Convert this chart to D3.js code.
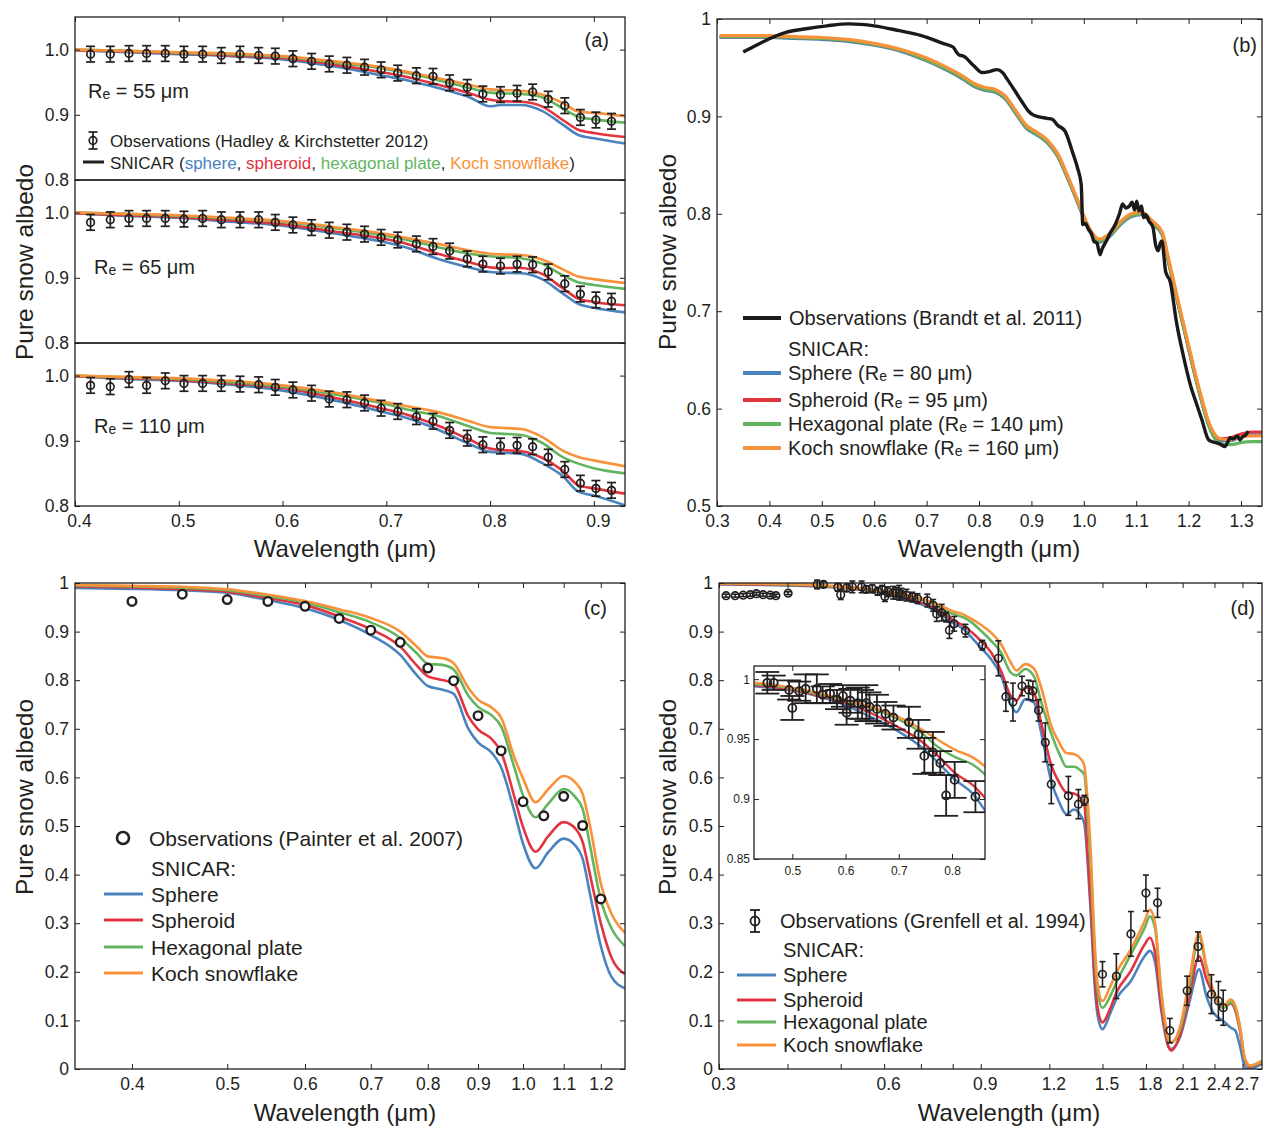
<!DOCTYPE html>
<html>
<head>
<meta charset="utf-8">
<script src="https://cdn.jsdelivr.net/npm/d3@7"></script>
<style>
  body { margin: 0; background: #fff; }
  svg text { font-family: "Liberation Sans", Arial, sans-serif; fill: #231f20; }
  .tick text { font-size: 17.5px; }
  .inset .tick text { font-size: 12px; }
  .tick line { stroke: #231f20; }
</style>
</head>
<body>
<div id="chart"></div>
<script>
// ---------- panel (a): Hadley & Kirchstetter 2012 ----------
const waveA = [0.415,0.434,0.452,0.469,0.487,0.505,0.523,0.541,0.559,0.577,0.593,0.610,0.628,0.645,0.662,0.679,
               0.695,0.711,0.729,0.745,0.761,0.778,0.793,0.810,0.826,0.841,0.856,0.872,0.887,0.902,0.917];
const obsA55 = [0.993,0.993,0.994,0.994,0.994,0.993,0.993,0.991,0.993,0.991,0.990,0.986,0.982,0.978,0.976,0.973,
                0.969,0.964,0.960,0.959,0.949,0.942,0.932,0.931,0.933,0.935,0.924,0.914,0.896,0.892,0.890];
const obsA65 = [0.985,0.989,0.991,0.991,0.991,0.990,0.991,0.989,0.989,0.989,0.985,0.981,0.977,0.973,0.970,0.967,
                0.962,0.958,0.952,0.948,0.941,0.929,0.921,0.918,0.921,0.920,0.909,0.891,0.875,0.866,0.864];
const obsA110 = [0.985,0.983,0.994,0.985,0.992,0.988,0.988,0.988,0.987,0.986,0.982,0.978,0.973,0.964,0.963,0.958,
                 0.950,0.945,0.937,0.930,0.916,0.904,0.894,0.892,0.893,0.891,0.875,0.856,0.835,0.827,0.824];
const errA = 0.012;

const gridA = [0.40,0.45,0.50,0.55,0.60,0.65,0.70,0.72,0.75,0.78,0.80,0.81,0.83,0.85,0.87,0.885,0.90,0.93];
const a55Sphere   = [0.999,0.996,0.993,0.990,0.985,0.974,0.959,0.953,0.941,0.927,0.913,0.915,0.915,0.906,0.885,0.869,0.864,0.856];
const a55Spheroid = [0.999,0.997,0.994,0.991,0.987,0.977,0.964,0.958,0.946,0.933,0.923,0.921,0.920,0.913,0.892,0.877,0.872,0.866];
const a55Hex      = [1.000,0.998,0.995,0.993,0.989,0.980,0.970,0.964,0.953,0.941,0.934,0.933,0.932,0.927,0.910,0.897,0.893,0.888];
const a55Koch     = [1.000,0.998,0.996,0.994,0.990,0.982,0.972,0.966,0.956,0.946,0.939,0.938,0.937,0.931,0.918,0.905,0.903,0.898];
const a65Sphere   = [0.999,0.995,0.992,0.986,0.980,0.968,0.954,0.946,0.929,0.916,0.909,0.908,0.907,0.898,0.876,0.860,0.854,0.847];
const a65Spheroid = [0.999,0.996,0.993,0.988,0.982,0.971,0.959,0.952,0.937,0.924,0.916,0.915,0.915,0.906,0.884,0.868,0.863,0.858];
const a65Hex      = [1.000,0.998,0.995,0.991,0.986,0.976,0.964,0.958,0.947,0.937,0.933,0.932,0.930,0.922,0.904,0.893,0.889,0.883];
const a65Koch     = [1.000,0.998,0.996,0.992,0.987,0.978,0.967,0.961,0.952,0.942,0.937,0.936,0.935,0.928,0.913,0.902,0.898,0.892];
const a110Sphere  = [0.999,0.995,0.992,0.986,0.977,0.962,0.943,0.935,0.917,0.895,0.883,0.882,0.880,0.866,0.846,0.822,0.816,0.801];
const a110Spheroid= [0.999,0.996,0.993,0.988,0.981,0.966,0.948,0.940,0.923,0.902,0.888,0.886,0.884,0.874,0.854,0.832,0.827,0.819];
const a110Hex     = [1.000,0.997,0.995,0.990,0.983,0.971,0.956,0.948,0.938,0.922,0.912,0.911,0.909,0.897,0.875,0.865,0.858,0.850];
const a110Koch    = [1.000,0.998,0.996,0.992,0.985,0.974,0.959,0.953,0.944,0.930,0.921,0.920,0.918,0.906,0.885,0.875,0.870,0.861];

// ---------- panel (b): Brandt et al. 2011 ----------
const waveBObs = [0.350,0.375,0.401,0.430,0.470,0.510,0.552,0.600,0.648,0.690,0.731,0.751,0.757,0.762,0.770,0.790,0.806,
  0.820,0.834,0.845,0.854,0.870,0.882,0.895,0.902,0.930,0.940,0.950,0.964,0.978,0.988,0.995,0.998,1.003,1.009,1.015,
  1.019,1.025,1.031,1.035,1.043,1.050,1.060,1.068,1.074,1.080,1.087,1.092,1.097,1.101,1.105,1.110,1.114,1.118,1.125,
  1.132,1.137,1.142,1.146,1.149,1.156,1.165,1.177,1.190,1.204,1.215,1.225,1.238,1.245,1.252,1.262,1.269,1.275,1.279,
  1.286,1.293,1.298,1.303,1.309,1.314];
const obsB = [0.966,0.973,0.980,0.986,0.990,0.993,0.995,0.993,0.988,0.983,0.975,0.971,0.966,0.963,0.962,0.952,0.945,
  0.946,0.948,0.945,0.938,0.925,0.915,0.905,0.902,0.898,0.897,0.891,0.885,0.864,0.847,0.830,0.789,0.790,0.784,0.779,
  0.772,0.770,0.758,0.764,0.772,0.780,0.789,0.800,0.810,0.806,0.808,0.812,0.804,0.813,0.803,0.808,0.796,0.799,0.792,
  0.786,0.768,0.762,0.770,0.772,0.741,0.730,0.688,0.654,0.623,0.605,0.589,0.568,0.566,0.565,0.563,0.561,0.566,0.570,
  0.569,0.572,0.568,0.571,0.573,0.577];
const gridB = [0.305,0.35,0.40,0.45,0.50,0.55,0.60,0.65,0.70,0.74,0.77,0.79,0.81,0.83,0.85,0.87,0.89,0.91,0.93,0.95,
  0.97,0.99,1.01,1.03,1.05,1.07,1.09,1.11,1.13,1.15,1.16,1.18,1.20,1.22,1.24,1.26,1.28,1.30,1.32,1.34];
const bSphere = [0.981,0.981,0.981,0.980,0.979,0.977,0.973,0.967,0.957,0.947,0.938,0.931,0.927,0.925,0.918,0.903,0.888,
  0.881,0.873,0.859,0.835,0.809,0.783,0.771,0.777,0.789,0.797,0.799,0.790,0.778,0.754,0.707,0.661,0.617,0.581,0.567,
  0.567,0.571,0.573,0.573];
const bSpheroid = [0.982,0.982,0.982,0.981,0.980,0.978,0.974,0.968,0.958,0.948,0.939,0.932,0.928,0.926,0.919,0.904,0.889,
  0.882,0.874,0.860,0.836,0.810,0.784,0.772,0.778,0.790,0.798,0.800,0.791,0.779,0.755,0.708,0.662,0.618,0.582,0.569,
  0.570,0.574,0.576,0.576];
const bHex = [0.982,0.982,0.982,0.981,0.980,0.978,0.974,0.968,0.958,0.948,0.939,0.932,0.928,0.926,0.919,0.904,0.889,
  0.882,0.874,0.860,0.836,0.810,0.784,0.772,0.778,0.790,0.798,0.800,0.791,0.779,0.755,0.708,0.662,0.618,0.580,0.564,
  0.563,0.565,0.566,0.566];
const bKoch = [0.983,0.983,0.983,0.982,0.981,0.979,0.975,0.969,0.960,0.950,0.941,0.934,0.930,0.928,0.921,0.906,0.891,
  0.884,0.876,0.862,0.838,0.812,0.786,0.774,0.780,0.792,0.800,0.802,0.793,0.781,0.758,0.711,0.665,0.621,0.584,0.569,
  0.568,0.571,0.572,0.572];

// ---------- panel (c): Painter et al. 2007 ----------
const waveCObs = [0.40,0.45,0.50,0.55,0.60,0.65,0.70,0.75,0.80,0.85,0.90,0.95,1.00,1.05,1.10,1.15,1.20];
const obsC = [0.962,0.977,0.966,0.962,0.952,0.927,0.903,0.878,0.825,0.799,0.727,0.655,0.550,0.521,0.561,0.501,0.350];
const gridC = [0.35,0.40,0.45,0.50,0.55,0.60,0.65,0.70,0.75,0.78,0.80,0.83,0.85,0.88,0.90,0.93,0.95,0.98,1.00,1.03,
  1.06,1.10,1.13,1.15,1.17,1.20,1.23,1.27];
const cSphere = [0.990,0.988,0.985,0.980,0.965,0.948,0.924,0.893,0.852,0.810,0.788,0.780,0.772,0.700,0.672,0.650,0.621,
  0.530,0.464,0.413,0.445,0.474,0.460,0.433,0.360,0.253,0.190,0.166];
const cSpheroid = [0.993,0.991,0.987,0.982,0.969,0.955,0.931,0.905,0.869,0.830,0.808,0.800,0.793,0.725,0.699,0.678,0.652,
  0.560,0.498,0.447,0.478,0.508,0.495,0.467,0.400,0.300,0.230,0.195];
const cHex = [0.995,0.993,0.990,0.985,0.973,0.960,0.940,0.919,0.887,0.855,0.834,0.831,0.822,0.768,0.745,0.727,0.705,
  0.620,0.563,0.518,0.545,0.576,0.560,0.535,0.460,0.348,0.290,0.253];
const cKoch = [0.996,0.994,0.992,0.987,0.976,0.963,0.946,0.928,0.900,0.869,0.849,0.845,0.835,0.784,0.760,0.743,0.723,
  0.641,0.598,0.549,0.575,0.603,0.590,0.566,0.500,0.382,0.320,0.280];

// ---------- panel (d): Grenfell et al. 1994 ----------
const waveDObs = [0.309,0.321,0.332,0.342,0.351,0.361,0.372,0.381,0.401,
  0.453,0.465,0.494,0.500,0.513,0.525,0.546,0.557,0.571,0.584,0.595,0.602,0.609,0.623,0.631,0.639,0.645,0.659,0.675,
  0.690,0.719,0.737,0.748,0.764,0.778,0.789,0.805,0.844,
  0.906,0.969,1.00,1.03,1.07,1.10,1.12,1.147,1.18,1.21,1.30,1.356,1.39,
  1.50,1.59,1.69,1.80,1.89,1.99,2.14,2.24,2.37,2.44,2.49];
const obsD = [0.974,0.974,0.975,0.976,0.978,0.976,0.975,0.974,0.979,
  0.997,0.997,0.991,0.976,0.990,0.992,0.992,0.987,0.988,0.983,0.986,0.972,0.982,0.980,0.979,0.980,0.977,0.975,0.971,
  0.968,0.964,0.954,0.936,0.939,0.930,0.903,0.916,0.902,
  0.872,0.845,0.766,0.755,0.788,0.780,0.778,0.738,0.672,0.586,0.562,0.545,0.553,
  0.195,0.191,0.278,0.362,0.342,0.079,0.161,0.252,0.154,0.140,0.126];
const errD = [0.003,0.003,0.003,0.003,0.003,0.003,0.003,0.003,0.003,
  0.009,0.006,0.008,0.010,0.008,0.012,0.012,0.007,0.008,0.008,0.009,0.010,0.010,0.013,0.012,0.015,0.012,0.012,0.010,
  0.010,0.013,0.012,0.015,0.017,0.010,0.017,0.015,0.013,
  0.010,0.036,0.030,0.039,0.020,0.020,0.020,0.022,0.040,0.040,0.040,0.030,0.010,
  0.026,0.046,0.046,0.037,0.030,0.025,0.030,0.030,0.040,0.040,0.036];
const gridD = [0.30,0.40,0.43,0.50,0.554,0.598,0.648,0.697,0.743,0.775,0.806,0.838,0.866,0.90,0.94,0.98,1.02,1.045,
  1.085,1.125,1.16,1.21,1.25,1.29,1.33,1.37,1.39,1.41,1.43,1.45,1.47,1.50,1.55,1.59,1.69,1.79,1.83,1.87,1.92,1.98,
  2.00,2.08,2.16,2.25,2.32,2.39,2.49,2.57,2.62,2.67,2.73,2.79,2.85,2.93];
const dSphere = [0.997,0.995,0.994,0.9905,0.985,0.9786,0.9683,0.9571,0.9432,0.9299,0.916,0.905,0.888,0.867,0.843,0.809,
  0.751,0.734,0.761,0.754,0.692,0.592,0.550,0.524,0.534,0.521,0.505,0.424,0.310,0.180,0.110,0.082,0.115,0.144,0.181,
  0.232,0.243,0.220,0.120,0.045,0.041,0.068,0.137,0.205,0.150,0.116,0.099,0.085,0.079,0.048,0.003,0.000,0.004,0.010];
const dSpheroid = [0.998,0.996,0.995,0.991,0.986,0.9805,0.9716,0.9605,0.948,0.9354,0.9215,0.912,0.899,0.881,0.857,0.819,
  0.768,0.758,0.785,0.775,0.712,0.625,0.590,0.569,0.567,0.557,0.545,0.438,0.330,0.200,0.125,0.096,0.125,0.157,0.202,
  0.256,0.270,0.240,0.130,0.045,0.038,0.072,0.150,0.232,0.185,0.154,0.126,0.135,0.120,0.080,0.015,0.004,0.008,0.013];
const dHex = [0.999,0.997,0.996,0.992,0.987,0.982,0.976,0.967,0.955,0.943,0.935,0.929,0.919,0.902,0.881,0.857,
  0.816,0.810,0.823,0.808,0.755,0.690,0.650,0.622,0.622,0.614,0.606,0.520,0.400,0.250,0.160,0.126,0.150,0.178,0.236,
  0.290,0.314,0.290,0.155,0.058,0.054,0.082,0.171,0.273,0.208,0.158,0.126,0.137,0.125,0.086,0.018,0.006,0.009,0.015];
const dKoch = [0.999,0.998,0.997,0.993,0.988,0.983,0.977,0.969,0.958,0.949,0.941,0.935,0.926,0.914,0.898,0.874,
  0.837,0.820,0.833,0.824,0.785,0.706,0.672,0.650,0.648,0.638,0.624,0.548,0.431,0.270,0.175,0.140,0.170,0.198,0.246,
  0.304,0.328,0.300,0.160,0.060,0.055,0.089,0.185,0.280,0.212,0.161,0.130,0.143,0.130,0.089,0.020,0.007,0.010,0.017];

// ---------- drawing ----------
const ink = "#231f20";
const colors = { sphere: "#4a83be", spheroid: "#e2343f", hex: "#62b45f", koch: "#f7923a" };
const zip = (xs, ys) => xs.map((v, i) => [v, ys[i]]);

const svg = d3.select("#chart").append("svg").attr("width", 1263).attr("height", 1126);
const defs = svg.append("defs");
let clipN = 0;
function clipTo(x0, y0, w, h) {
  const id = "clip" + (clipN++);
  defs.append("clipPath").attr("id", id).append("rect").attr("x", x0).attr("y", y0).attr("width", w).attr("height", h);
  return "url(#" + id + ")";
}

function drawAxes(g, x, y, o) {
  const [x0, x1] = x.range(), [yb, yt] = y.range();
  if (o.bottom) {
    const ax = g.append("g").attr("transform", `translate(0,${yb})`)
      .call(d3.axisBottom(x).tickValues(o.xt).tickSize(-5).tickPadding(o.pad || 9).tickFormat(o.xf));
    if (o.dx) ax.selectAll(".tick text").attr("dx", o.dx);
  }
  if (o.top) g.append("g").attr("transform", `translate(0,${yt})`)
    .call(d3.axisTop(x).tickValues(o.xt).tickSize(-5).tickFormat(""));
  g.append("g").attr("transform", `translate(${x0},0)`)
    .call(d3.axisLeft(y).tickValues(o.yt).tickSize(-5).tickPadding(o.pad ? 4 : 6).tickFormat(o.yf));
  g.append("g").attr("transform", `translate(${x1},0)`)
    .call(d3.axisRight(y).tickValues(o.yt).tickSize(-5).tickFormat(""));
  g.selectAll(".domain").remove();
  g.selectAll(".tick text").attr("font-family", null);
  g.append("rect").attr("x", x0).attr("y", yt).attr("width", x1 - x0).attr("height", yb - yt)
    .attr("fill", "none").attr("stroke", ink).attr("stroke-width", 1.3);
}

function drawCurves(g, x, y, grid, series, width, clip) {
  const line = d3.line().x(d => x(d[0])).y(d => y(d[1])).curve(d3.curveMonotoneX);
  const cg = g.append("g").attr("clip-path", clip);
  series.forEach(s => {
    cg.append("path").datum(zip(grid, s.v)).attr("d", line)
      .attr("fill", "none").attr("stroke", s.c).attr("stroke-width", width).attr("stroke-linejoin", "round");
  });
}

function errPoints(g, x, y, xs, ys, errs, o) {
  const pts = g.selectAll(null).data(xs.map((v, i) => ({ w: v, a: ys[i], e: errs[i] })))
    .enter().append("g").filter(d => o.keep ? o.keep(d) : true);
  pts.append("line").attr("x1", d => x(d.w)).attr("x2", d => x(d.w))
    .attr("y1", d => y(d.a - d.e)).attr("y2", d => y(d.a + d.e))
    .attr("stroke", ink).attr("stroke-width", o.sw);
  [-1, 1].forEach(k => {
    pts.append("line").attr("x1", d => x(d.w) - o.cap).attr("x2", d => x(d.w) + o.cap)
      .attr("y1", d => y(d.a + k * d.e)).attr("y2", d => y(d.a + k * d.e))
      .attr("stroke", ink).attr("stroke-width", o.sw);
  });
  pts.append("circle").attr("cx", d => x(d.w)).attr("cy", d => y(d.a)).attr("r", o.r)
    .attr("fill", "none").attr("stroke", ink).attr("stroke-width", o.sw);
}

function reText(g, x, y, size, before, after) {
  const t = g.append("text").attr("x", x).attr("y", y).attr("dominant-baseline", "central").style("font-size", size + "px");
  t.append("tspan").text(before + "R");
  t.append("tspan").text("e").style("font-size", Math.round(size * 0.72) + "px").attr("dy", size * 0.14);
  t.append("tspan").text(after).attr("dy", -size * 0.14);
  return t;
}

function label(g, x, y, size, txt, anchor) {
  return g.append("text").attr("x", x).attr("y", y).attr("dominant-baseline", "central")
    .attr("text-anchor", anchor || "start").style("font-size", size + "px").text(txt);
}

function yTitle(g, cx, cy) {
  g.append("text").attr("transform", `translate(${cx},${cy}) rotate(-90)`).attr("text-anchor", "middle")
    .attr("dominant-baseline", "central").style("font-size", "24.5px").text("Pure snow albedo");
}

const f1 = d => d.toFixed(1);
const fEnd = d => (d === 1 || d === 0) ? String(d) : d.toFixed(1);

// ===== (a) =====
const gA = svg.append("g");
const xA = d3.scaleLinear().domain([0.4, 0.93]).range([75, 625]);
const subsA = [
  { re: "55", obs: obsA55, cur: [a55Sphere, a55Spheroid, a55Hex, a55Koch], lx: 88, ly: 91 },
  { re: "65", obs: obsA65, cur: [a65Sphere, a65Spheroid, a65Hex, a65Koch], lx: 94, ly: 267 },
  { re: "110", obs: obsA110, cur: [a110Sphere, a110Spheroid, a110Hex, a110Koch], lx: 94, ly: 426 }
];
subsA.forEach((s, i) => {
  const top = 17 + i * 163, bot = top + 163;
  const yA = d3.scaleLinear().domain([0.8, 1.05]).range([bot, top]);
  const g = gA.append("g");
  drawCurves(g, xA, yA, gridA, [
    { v: s.cur[0], c: colors.sphere }, { v: s.cur[1], c: colors.spheroid },
    { v: s.cur[2], c: colors.hex }, { v: s.cur[3], c: colors.koch }], 2.6, clipTo(75, top, 550, 163));
  errPoints(g, xA, yA, waveA, s.obs, waveA.map(() => errA), { r: 3.8, cap: 4.5, sw: 1.7 });
  drawAxes(g, xA, yA, { xt: [0.4, 0.5, 0.6, 0.7, 0.8, 0.9], xf: f1, yt: [0.8, 0.9, 1.0], yf: f1,
    top: i === 0, bottom: i === 2, dx: 4 });
  reText(g, s.lx, s.ly, 20, "", " = " + s.re + " \u03bcm");
});
// legend (a)
{
  const g = gA.append("g");
  g.append("line").attr("x1", 93).attr("x2", 93).attr("y1", 132).attr("y2", 149).attr("stroke", ink).attr("stroke-width", 1.7);
  [132, 149].forEach(v => g.append("line").attr("x1", 88.5).attr("x2", 97.5).attr("y1", v).attr("y2", v).attr("stroke", ink).attr("stroke-width", 1.7));
  g.append("circle").attr("cx", 93).attr("cy", 140.5).attr("r", 3.8).attr("fill", "none").attr("stroke", ink).attr("stroke-width", 1.7);
  label(g, 110, 141, 17, "Observations (Hadley & Kirchstetter 2012)");
  g.append("line").attr("x1", 83).attr("x2", 104).attr("y1", 162).attr("y2", 162).attr("stroke", ink).attr("stroke-width", 3);
  const t = label(g, 110, 163, 17, "");
  [["SNICAR (", ink], ["sphere", colors.sphere], [", ", ink], ["spheroid", colors.spheroid], [", ", ink],
   ["hexagonal plate", colors.hex], [", ", ink], ["Koch snowflake", colors.koch], [")", ink]]
    .forEach(p => t.append("tspan").text(p[0]).style("fill", p[1]));
  label(g, 609, 40, 20, "(a)", "end");
}
label(gA, 345, 548, 24, "Wavelength (\u03bcm)", "middle");
yTitle(gA, 24, 262);

// ===== (b) =====
const gB = svg.append("g");
const xB = d3.scaleLinear().domain([0.3, 1.34]).range([717, 1262]);
const yB = d3.scaleLinear().domain([0.5, 1.0]).range([506, 19]);
drawCurves(gB, xB, yB, gridB, [
  { v: bSphere, c: colors.sphere }, { v: bSpheroid, c: colors.spheroid },
  { v: bHex, c: colors.hex }, { v: bKoch, c: colors.koch }], 3.2, clipTo(717, 19, 545, 487));
gB.append("path").datum(zip(waveBObs, obsB))
  .attr("d", d3.line().x(d => xB(d[0])).y(d => yB(d[1])).curve(d3.curveMonotoneX))
  .attr("fill", "none").attr("stroke", "#1a1a1a").attr("stroke-width", 3.4).attr("stroke-linejoin", "round");
drawAxes(gB, xB, yB, { xt: d3.range(3, 14).map(v => v / 10), xf: f1, yt: [0.5, 0.6, 0.7, 0.8, 0.9, 1.0], yf: fEnd,
  top: true, bottom: true });
{
  const g = gB.append("g");
  g.append("line").attr("x1", 743).attr("x2", 781).attr("y1", 318).attr("y2", 318).attr("stroke", "#1a1a1a").attr("stroke-width", 4);
  label(g, 789, 318, 20, "Observations (Brandt et al. 2011)");
  label(g, 788, 349, 20, "SNICAR:");
  const items = [["Sphere (", " = 80 \u03bcm)", colors.sphere, 373], ["Spheroid (", " = 95 \u03bcm)", colors.spheroid, 400],
    ["Hexagonal plate (", " = 140 \u03bcm)", colors.hex, 424], ["Koch snowflake (", " = 160 \u03bcm)", colors.koch, 448]];
  items.forEach(it => {
    g.append("line").attr("x1", 743).attr("x2", 781).attr("y1", it[3]).attr("y2", it[3]).attr("stroke", it[2]).attr("stroke-width", 4);
    reText(g, 788, it[3], 20, it[0], it[1]);
  });
  label(g, 1257, 45, 20, "(b)", "end");
}
label(gB, 989, 548, 24, "Wavelength (\u03bcm)", "middle");
yTitle(gB, 667, 252);

// ===== (c) =====
const gC = svg.append("g");
const xC = d3.scaleLog().domain([0.35, 1.27]).range([75, 625]);
const yC = d3.scaleLinear().domain([0, 1]).range([1069, 583]);
drawCurves(gC, xC, yC, gridC, [
  { v: cSphere, c: colors.sphere }, { v: cSpheroid, c: colors.spheroid },
  { v: cHex, c: colors.hex }, { v: cKoch, c: colors.koch }], 2.6, clipTo(75, 583, 550, 486));
gC.selectAll(null).data(zip(waveCObs, obsC)).enter().append("circle")
  .attr("cx", d => xC(d[0])).attr("cy", d => yC(d[1])).attr("r", 4.3)
  .attr("fill", "#fff").attr("stroke", ink).attr("stroke-width", 2.4);
drawAxes(gC, xC, yC, { xt: d3.range(4, 13).map(v => v / 10), xf: f1, yt: d3.range(0, 11).map(v => v / 10), yf: fEnd,
  top: true, bottom: true });
{
  const g = gC.append("g");
  g.append("circle").attr("cx", 123).attr("cy", 838).attr("r", 6).attr("fill", "#fff").attr("stroke", ink).attr("stroke-width", 2.6);
  label(g, 149, 838, 21, "Observations (Painter et al. 2007)");
  label(g, 151, 868, 21, "SNICAR:");
  [["Sphere", colors.sphere, 894], ["Spheroid", colors.spheroid, 920], ["Hexagonal plate", colors.hex, 947],
   ["Koch snowflake", colors.koch, 973]].forEach(it => {
    g.append("line").attr("x1", 104).attr("x2", 143).attr("y1", it[2]).attr("y2", it[2]).attr("stroke", it[1]).attr("stroke-width", 3);
    label(g, 151, it[2], 21, it[0]);
  });
  label(g, 607, 608, 20, "(c)", "end");
}
label(gC, 345, 1112, 24, "Wavelength (\u03bcm)", "middle");
yTitle(gC, 24, 797);

// ===== (d) =====
const gD = svg.append("g");
const xD = d3.scaleLog().domain([0.3, 2.93]).range([719, 1262]);
const yD = d3.scaleLinear().domain([0, 1]).range([1069, 583]);
drawCurves(gD, xD, yD, gridD, [
  { v: dSphere, c: colors.sphere }, { v: dSpheroid, c: colors.spheroid },
  { v: dHex, c: colors.hex }, { v: dKoch, c: colors.koch }], 2.6, clipTo(719, 583, 543, 486));
errPoints(gD, xD, yD, waveDObs, obsD, errD, { r: 3.8, cap: 3, sw: 1.6 });
drawAxes(gD, xD, yD, { xt: [0.3, 0.4, 0.5, 0.6, 0.7, 0.8, 0.9, 1.2, 1.5, 1.8, 2.1, 2.4, 2.7],
  xf: d => Math.round(d * 10) % 3 === 0 ? d.toFixed(1) : "", yt: d3.range(0, 11).map(v => v / 10), yf: fEnd,
  top: true, bottom: true, dx: 4 });
// inset
{
  const g = gD.append("g").attr("class", "inset");
  const xI = d3.scaleLinear().domain([0.428, 0.862]).range([754, 985]);
  const yI = d3.scaleLinear().domain([0.85, 1.011]).range([859, 666]);
  g.append("rect").attr("x", 754).attr("y", 666).attr("width", 231).attr("height", 193).attr("fill", "#fff");
  drawCurves(g, xI, yI, gridD, [
    { v: dSphere, c: colors.sphere }, { v: dSpheroid, c: colors.spheroid },
    { v: dHex, c: colors.hex }, { v: dKoch, c: colors.koch }], 2.4, clipTo(754, 666, 231, 193));
  errPoints(g.append("g").attr("clip-path", clipTo(754, 666, 231, 193)), xI, yI, waveDObs, obsD, errD,
    { r: 4, cap: 12, sw: 1.8, keep: d => d.w > 0.43 && d.w < 0.86 });
  drawAxes(g, xI, yI, { xt: [0.5, 0.6, 0.7, 0.8], xf: f1, yt: [0.85, 0.9, 0.95, 1.0],
    yf: d => d === 1 ? "1" : String(d), top: true, bottom: true, pad: 7 });
}
{
  const g = gD.append("g");
  g.append("line").attr("x1", 755).attr("x2", 755).attr("y1", 910).attr("y2", 932).attr("stroke", ink).attr("stroke-width", 1.8);
  [910, 932].forEach(v => g.append("line").attr("x1", 750).attr("x2", 760).attr("y1", v).attr("y2", v).attr("stroke", ink).attr("stroke-width", 1.8));
  g.append("circle").attr("cx", 755).attr("cy", 921).attr("r", 4.5).attr("fill", "none").attr("stroke", ink).attr("stroke-width", 1.8);
  label(g, 780, 921, 20, "Observations (Grenfell et al. 1994)");
  label(g, 783, 950, 20, "SNICAR:");
  [["Sphere", colors.sphere, 975], ["Spheroid", colors.spheroid, 1000], ["Hexagonal plate", colors.hex, 1022],
   ["Koch snowflake", colors.koch, 1045]].forEach(it => {
    g.append("line").attr("x1", 737).attr("x2", 776).attr("y1", it[2]).attr("y2", it[2]).attr("stroke", it[1]).attr("stroke-width", 3);
    label(g, 783, it[2], 20, it[0]);
  });
  label(g, 1255, 608, 20, "(d)", "end");
}
label(gD, 1009, 1112, 24, "Wavelength (\u03bcm)", "middle");
yTitle(gD, 667, 797);
</script>
</body>
</html>
